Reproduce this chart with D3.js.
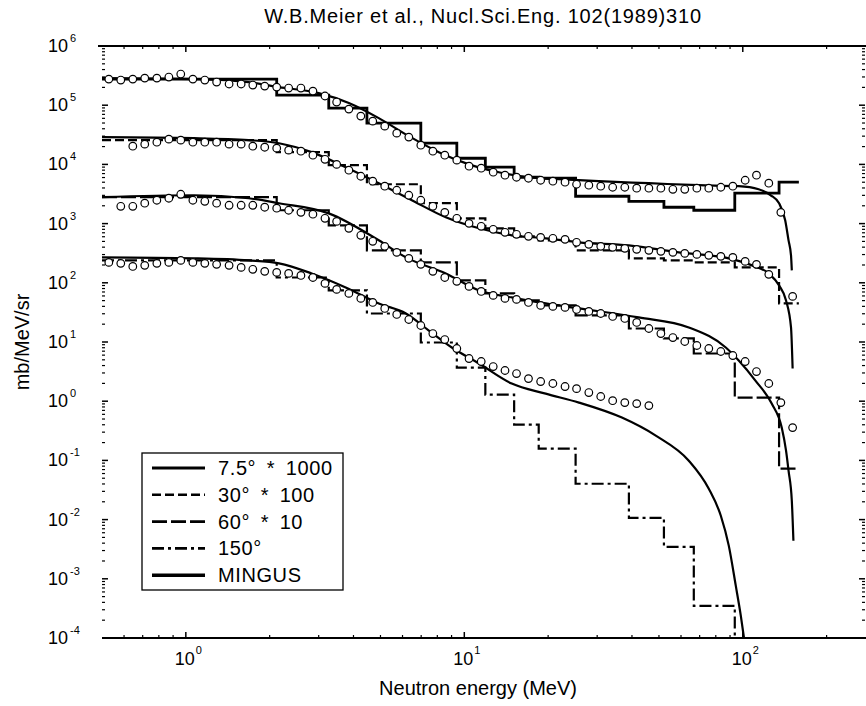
<!DOCTYPE html>
<html>
<head>
<meta charset="utf-8">
<script src="https://cdn.jsdelivr.net/npm/d3@7"></script>
<style>
  body { margin: 0; background: #fff; }
  svg { display: block; font-family: 'Liberation Sans', Arial, sans-serif; }
</style>
</head>
<body>
<div class="js-canvas"></div>
<script>
'use strict';

// histogram bin edges (MeV), same for all four angles
const binEdges = [0.5, 2.12, 3.26, 4.47, 6.98, 9.4, 11.9, 15.1, 18.5, 25.1, 39.0, 52.1, 66.7, 93.6, 135, 159];
const hist75 = [2.76e5, 1.48e5, 8.93e4, 4.98e4, 2.28e4, 1.27e4, 8.97e3, 6.07e3, 5.84e3, 2.90e3, 2.38e3, 1.89e3, 1.68e3, 3.26e3, 5.0e3];
const hist30 = [2.57e4, 1.61e4, 9.70e3, 4.62e3, 2.21e3, 1.23e3, 833, 610, 522, 353, 259, 239, 221, 182, 44.8];
const hist60 = [2.79e3, 1.68e3, 936, 353, 221, 110, 66.2, 50.4, 41.5, 28.1, 16.9, 11.5, 6.39, 1.15, 0.0724];
const hist150 = [239, 123, 74.3, 30.3, 9.80, 3.70, 1.29, 0.402, 0.158, 0.0403, 0.0107, 3.47e-3, 3.48e-4, 1e-5, 1e-5];

// MINGUS calculation
const mingusE75 = [0.5, 1.11, 1.68, 2.16, 3.0, 3.85, 4.93, 6.32, 8.1, 10.4, 13.3, 17.0, 21.8, 30.4, 46, 69.5, 96.7, 114, 126, 135, 142, 146, 149, 150];
const mingusV75 = [2.87e5, 2.76e5, 2.46e5, 2.02e5, 1.6e5, 1.09e5, 6.05e4, 3.0e4, 1.61e4, 1.0e4, 7.38e3, 6.07e3, 5.62e3, 5.2e3, 4.81e3, 4.45e3, 4.28e3, 3.8e3, 3.01e3, 2.2e3, 1.14e3, 521, 291, 162];
const mingusE30 = [0.5, 1.07, 1.68, 2.16, 2.83, 3.75, 4.93, 6.48, 8.58, 11.3, 14.8, 19.6, 25.8, 39.0, 58.9, 89.1, 108, 124, 135, 143, 149, 151];
const mingusV30 = [2.89e4, 2.78e4, 2.57e4, 2.28e4, 1.61e4, 8.97e3, 4.81e3, 2.48e3, 1.28e3, 833, 634, 564, 483, 429, 327, 259, 197, 144, 90.4, 50.4, 17.6, 3.56];
const mingusE60 = [0.5, 1.07, 1.68, 2.16, 3.26, 4.93, 6.17, 8.58, 11.3, 14.8, 19.6, 25.8, 42.3, 64.0, 86.9, 96.7, 111, 127, 138, 143, 146, 150, 152];
const mingusV60 = [2.79e3, 3.01e3, 2.68e3, 2.21e3, 1.49e3, 522, 269, 144, 74.3, 56.6, 44.8, 36.9, 26.0, 17.6, 8.07, 4.86, 2.23, 0.911, 0.358, 0.146, 0.0669, 0.0208, 4.38e-3];
const mingusE150 = [0.5, 1.07, 1.68, 2.16, 2.83, 3.75, 4.93, 6.17, 7.46, 9.02, 11.3, 14.8, 19.6, 25.8, 36.8, 48.7, 64.0, 75.5, 83.4, 89.1, 94.4, 98.4, 101];
const mingusV150 = [269, 259, 239, 213, 144, 83.6, 44.8, 30.3, 15.6, 8.07, 4.33, 1.99, 1.34, 0.947, 0.528, 0.262, 0.0989, 0.0332, 0.0116, 3.6e-3, 7.58e-4, 2.36e-4, 1.0e-4];

// measured points (open circles), energies shared, null = no point
const circleE = [0.529, 0.584, 0.645, 0.712, 0.787, 0.869, 0.959, 1.06, 1.17, 1.29, 1.43, 1.58, 1.74, 1.92, 2.12, 2.34, 2.59, 2.86, 3.16, 3.48, 3.85, 4.25, 4.69, 5.18, 5.72, 6.32, 6.98, 7.71, 8.51, 9.40, 10.4, 11.5, 12.7, 14.0, 15.4, 17.0, 18.8, 20.8, 23.0, 25.3, 28.0, 30.9, 34.1, 37.7, 41.6, 46.0, 50.8, 56.1, 61.9, 68.4, 75.5, 83.4, 92.1, 102, 112, 124, 137, 151];
const circ75 = [2.76e5, 2.66e5, 2.76e5, 2.87e5, 2.87e5, 2.99e5, 3.36e5, 2.76e5, 2.66e5, 2.46e5, 2.28e5, 2.28e5, 2.19e5, 2.10e5, 2.02e5, 1.95e5, 1.95e5, 1.73e5, 1.43e5, 1.13e5, 8.59e4, 6.54e4, 5.38e4, 4.43e4, 3.37e4, 2.89e4, 2.11e4, 1.67e4, 1.43e4, 1.18e4, 9.32e3, 8.62e3, 7.38e3, 6.57e3, 6.07e3, 5.84e3, 5.40e3, 5.2e3, 5.0e3, 4.62e3, 4.45e3, 4.28e3, 4.11e3, 4.11e3, 3.96e3, 3.96e3, 3.96e3, 3.8e3, 3.8e3, 3.96e3, 3.96e3, 4.11e3, 4.28e3, 5.40e3, 6.57e3, 4.81e3, 1.55e3, null];
const circ30 = [null, null, 2.03e4, 2.20e4, 2.37e4, 2.67e4, 2.57e4, 2.37e4, 2.37e4, 2.37e4, 2.20e4, 2.20e4, 2.03e4, 1.95e4, 1.88e4, 1.74e4, 1.67e4, 1.43e4, 1.22e4, 1.0e4, 7.98e3, 6.31e3, 5.2e3, 4.28e3, 3.66e3, 3.01e3, 2.48e3, 1.96e3, 1.55e3, 1.23e3, 1.01e3, 900, 801, 713, 659, 610, 586, 564, 542, 483, 446, 413, 397, 382, 367, 353, 340, 327, 314, 302, 291, 280, 269, 230, 205, 139, null, 58.9];
const circ60 = [null, 1.96e3, 1.96e3, 2.21e3, 2.48e3, 2.68e3, 3.13e3, 2.48e3, 2.38e3, 2.21e3, 2.04e3, 2.04e3, 2.04e3, 1.89e3, 1.82e3, 1.68e3, 1.55e3, 1.44e3, 1.23e3, 1.09e3, 833, 634, 502, 413, 327, 259, 205, 156, 123, 106, 86.9, 71.5, 61.2, 54.5, 52.4, 46.6, 41.5, 39.9, 38.4, 35.5, 32.8, 30.3, 27.0, 25.0, 21.4, 16.9, 13.9, 11.9, 10.2, 8.73, 7.76, 6.91, 5.91, 4.68, 3.17, 1.99, 0.947, 0.358];
const circ150 = [221, 213, 189, 197, 213, 221, 239, 221, 213, 205, 197, 182, 169, 156, 150, 144, 133, 123, 97.7, 77.3, 66.2, 54.5, 46.6, 36.9, 29.2, 24.0, 19.0, 13.9, 11.0, 7.76, 5.26, 4.68, 3.85, 3.30, 2.93, 2.41, 2.15, 1.99, 1.77, 1.63, 1.40, 1.20, 1.02, 0.947, 0.911, 0.842, null, null, null, null, null, null, null, null, null, null, null, null];

const legendLabels = ['7.5°\u2002*\u20021000', '30°\u2002*\u2002100', '60°\u2002*\u200210', '150°', 'MINGUS'];
const xMajor = [1, 10, 100];
const yDecades = [-4, -3, -2, -1, 0, 1, 2, 3, 4, 5, 6];

const config = {
    width: 866,
    height: 706,
    plot: { left: 102, right: 866, top: 46, bottom: 638 },
    font: 'Liberation Sans, Arial, sans-serif'
};

const styles = [
    { dash: null, width: 2.8 },
    { dash: '9,4', width: 2.2 },
    { dash: '15,4', width: 2.2 },
    { dash: '12,4,3,4', width: 2.2 }
];
const mingusStyle = { dash: null, width: 2.2 };

const svg = d3.select('.js-canvas')
    .append('svg')
    .attr('width', config.width)
    .attr('height', config.height);

const x = d3.scaleLog().domain([0.5, 277]).range([config.plot.left, config.plot.right]);
const y = d3.scaleLog().domain([1e-4, 1e6]).range([config.plot.bottom, config.plot.top]);

svg.append('defs').append('clipPath').attr('id', 'clip')
    .append('rect')
    .attr('x', config.plot.left).attr('y', config.plot.top)
    .attr('width', config.plot.right - config.plot.left)
    .attr('height', config.plot.bottom - config.plot.top);

// ---- axes ----
const minorOf = (lo, hi, dLo, dHi) => {
    const out = [];
    for (let d = dLo; d <= dHi; d++) {
        for (let k = 2; k <= 9; k++) {
            const v = k * Math.pow(10, d);
            if (v > lo && v < hi) out.push(v);
        }
    }
    return out;
};
const xMinor = minorOf(0.5, 277, -1, 2);
const yMinor = minorOf(1e-4, 1e6, -4, 5);

const axes = svg.append('g').attr('stroke', '#000').attr('fill', 'none');

axes.append('line')
    .attr('x1', config.plot.left - 4).attr('x2', config.plot.right)
    .attr('y1', config.plot.top).attr('y2', config.plot.top)
    .attr('stroke-width', 2);
axes.append('line')
    .attr('x1', config.plot.left).attr('x2', config.plot.right)
    .attr('y1', config.plot.bottom).attr('y2', config.plot.bottom)
    .attr('stroke-width', 2);

// x ticks, bottom and top, pointing inward
[[config.plot.bottom, -1], [config.plot.top, 1]].forEach(([yy, dir]) => {
    axes.selectAll(null).data(xMajor).join('line')
        .attr('x1', d => x(d)).attr('x2', d => x(d))
        .attr('y1', yy).attr('y2', d => yy + dir * 6)
        .attr('stroke-width', 1.5);
    axes.selectAll(null).data(xMinor).join('line')
        .attr('x1', d => x(d)).attr('x2', d => x(d))
        .attr('y1', yy).attr('y2', d => yy + dir * 3)
        .attr('stroke-width', 1.2);
});

// y ticks, left and right
[[config.plot.left, 1], [config.plot.right - 1, -1]].forEach(([xx, dir]) => {
    axes.selectAll(null).data(yDecades).join('line')
        .attr('x1', xx).attr('x2', xx + dir * 6)
        .attr('y1', d => y(Math.pow(10, d))).attr('y2', d => y(Math.pow(10, d)))
        .attr('stroke-width', 1.5);
    axes.selectAll(null).data(yMinor).join('line')
        .attr('x1', xx).attr('x2', xx + dir * 3)
        .attr('y1', d => y(d)).attr('y2', d => y(d))
        .attr('stroke-width', 1.2);
});

// tick labels: 10 with superscript exponent
const labels = svg.append('g').attr('fill', '#000').attr('font-family', config.font);

labels.selectAll(null).data(yDecades).join('text')
    .attr('x', 68).attr('y', d => y(Math.pow(10, d)) + 6)
    .attr('text-anchor', 'end').attr('font-size', 18)
    .text('10');
labels.selectAll(null).data(yDecades).join('text')
    .attr('x', 70).attr('y', d => y(Math.pow(10, d)) - 4)
    .attr('font-size', 11)
    .text(d => d);

labels.selectAll(null).data(xMajor).join('text')
    .attr('x', d => x(d) - 1).attr('y', 665)
    .attr('text-anchor', 'middle').attr('font-size', 18)
    .text('10');
labels.selectAll(null).data(xMajor).join('text')
    .attr('x', d => x(d) + 10).attr('y', 654)
    .attr('font-size', 11)
    .text(d => Math.round(Math.log10(d)));

labels.append('text')
    .attr('x', 483).attr('y', 23)
    .attr('text-anchor', 'middle').attr('font-size', 20)
    .attr('letter-spacing', 0.8)
    .text('W.B.Meier et al., Nucl.Sci.Eng. 102(1989)310');

labels.append('text')
    .attr('x', 478).attr('y', 695)
    .attr('text-anchor', 'middle').attr('font-size', 20)
    .text('Neutron energy (MeV)');

labels.append('text')
    .attr('transform', 'translate(29, 342) rotate(-90)')
    .attr('text-anchor', 'middle').attr('font-size', 20)
    .text('mb/MeV/sr');

// ---- data ----
const graph = svg.append('g').attr('clip-path', 'url(#clip)');

const histLine = d3.line()
    .x(d => x(d.e))
    .y(d => y(d.v))
    .curve(d3.curveStepAfter);

const smooth = d3.line()
    .x(d => x(d.e))
    .y(d => y(d.v))
    .curve(d3.curveMonotoneX);

const hists = [hist75, hist30, hist60, hist150];
hists.forEach((h, s) => {
    const pts = binEdges.map((e, i) => ({ e, v: h[Math.min(i, h.length - 1)] }));
    graph.append('path')
        .datum(pts)
        .attr('d', histLine)
        .attr('fill', 'none')
        .attr('stroke', '#000')
        .attr('stroke-width', styles[s].width)
        .attr('stroke-dasharray', styles[s].dash);
});

const mingus = [
    [mingusE75, mingusV75],
    [mingusE30, mingusV30],
    [mingusE60, mingusV60],
    [mingusE150, mingusV150]
];
mingus.forEach(([es, vs]) => {
    graph.append('path')
        .datum(es.map((e, i) => ({ e, v: vs[i] })))
        .attr('d', smooth)
        .attr('fill', 'none')
        .attr('stroke', '#000')
        .attr('stroke-width', mingusStyle.width);
});

[circ75, circ30, circ60, circ150].forEach(vals => {
    const pts = circleE.map((e, i) => ({ e, v: vals[i] })).filter(d => d.v != null);
    graph.append('g').selectAll('circle')
        .data(pts)
        .join('circle')
        .attr('cx', d => x(d.e))
        .attr('cy', d => y(d.v))
        .attr('r', 3.8)
        .attr('fill', '#fff')
        .attr('stroke', '#000')
        .attr('stroke-width', 1.2);
});

// ---- legend ----
const legend = svg.append('g').attr('transform', 'translate(142, 453)');
legend.append('rect')
    .attr('width', 201).attr('height', 137)
    .attr('fill', '#fff').attr('stroke', '#000').attr('stroke-width', 1.3);

const legendStyles = styles.concat([{ dash: null, width: 3 }]);
legendLabels.forEach((lab, i) => {
    const yy = 15 + i * 26.8;
    legend.append('line')
        .attr('x1', 10).attr('x2', 63)
        .attr('y1', yy).attr('y2', yy)
        .attr('stroke', '#000')
        .attr('stroke-width', legendStyles[i].width + 0.4)
        .attr('stroke-dasharray', legendStyles[i].dash);
    legend.append('text')
        .attr('x', 76).attr('y', yy + 7)
        .attr('font-family', config.font)
        .attr('font-size', 20)
        .attr('letter-spacing', 0.6)
        .text(lab);
});
</script>
</body>
</html>
